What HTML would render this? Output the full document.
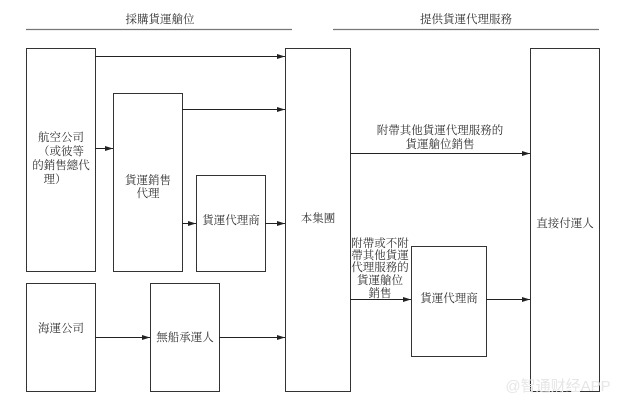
<!DOCTYPE html>
<html><head><meta charset="utf-8"><style>
body{margin:0;background:#fff;width:619px;height:405px;overflow:hidden}
svg text{font-family:"Liberation Serif","Noto Serif CJK SC","Noto Sans CJK TC",serif;font-size:11.5px;fill:#333;text-anchor:middle}
</style></head><body>
<svg width="619" height="405" viewBox="0 0 619 405">
<defs><marker id="a" markerWidth="8" markerHeight="6" refX="8" refY="3" orient="auto" markerUnits="userSpaceOnUse"><path d="M0,0.5 L8,3 L0,5.5z" fill="#222"/></marker></defs>
<g stroke="#777" stroke-width="1.3"><line x1="26" y1="29.5" x2="292" y2="29.5"/><line x1="333" y1="29.5" x2="599" y2="29.5"/></g>
<text x="160" y="23">採購貨運艙位</text><text x="466" y="23">提供貨運代理服務</text>
<g fill="none" stroke="#333" stroke-width="1">
<rect x="26.5" y="48.5" width="69" height="223"/>
<rect x="113.5" y="93.5" width="69" height="178"/>
<rect x="196.5" y="175.5" width="69" height="96"/>
<rect x="285.5" y="48.5" width="65" height="343"/>
<rect x="530.5" y="48.5" width="69" height="343"/>
<rect x="26.5" y="283.5" width="69" height="108"/>
<rect x="150.5" y="283.5" width="69" height="108"/>
<rect x="411.5" y="246.5" width="75" height="110"/>
</g>
<g stroke="#222" stroke-width="1" marker-end="url(#a)">
<line x1="95" y1="56.5" x2="285" y2="56.5"/>
<line x1="182" y1="109.5" x2="285" y2="109.5"/>
<line x1="95" y1="148.5" x2="113" y2="148.5"/>
<line x1="182" y1="223.5" x2="196" y2="223.5"/>
<line x1="265" y1="223.5" x2="285" y2="223.5"/>
<line x1="95" y1="337.5" x2="150" y2="337.5"/>
<line x1="219" y1="337.5" x2="285" y2="337.5"/>
<line x1="350" y1="153.5" x2="530" y2="153.5"/>
<line x1="350" y1="299.5" x2="411" y2="299.5"/>
<line x1="486" y1="299.5" x2="530" y2="299.5"/>
</g>
<text x="61" y="141">航空公司</text><text x="61" y="155">（或彼等</text><text x="61" y="169">的銷售總代</text><text x="55" y="183">理）</text>
<text x="148" y="184">貨運銷售</text><text x="148" y="197">代理</text>
<text x="231" y="224">貨運代理商</text>
<text x="318" y="222">本集團</text>
<text x="565" y="227">直接付運人</text>
<text x="61" y="332">海運公司</text>
<text x="185" y="341">無船承運人</text>
<text x="449" y="302">貨運代理商</text>
<text x="440" y="134">附帶其他貨運代理服務的</text><text x="440" y="148">貨運艙位銷售</text>
<text x="380" y="247">附帶或不附</text><text x="380" y="259">帶其他貨運</text><text x="380" y="271">代理服務的</text><text x="380" y="284">貨運艙位</text><text x="380" y="297">銷售</text>
<text x="558" y="391" style="font-family:'Liberation Sans','Noto Sans CJK SC',sans-serif;font-size:15px;fill:#e6e6e6">@智通财经APP</text>
</svg>
</body></html>
